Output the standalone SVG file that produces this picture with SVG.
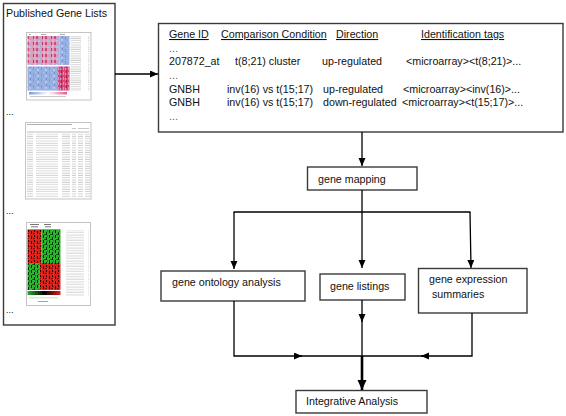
<svg xmlns="http://www.w3.org/2000/svg" width="566" height="416" viewBox="0 0 566 416">
<style>
  text { font-family: "Liberation Sans", Arial, sans-serif; font-size: 10.7px; fill: #111; }
  .box { fill: #fff; stroke: #3a3a3a; stroke-width: 1.4; }
  .hdr { text-decoration: underline; }
  .conn { fill: none; stroke: #000; stroke-width: 1.3; }
  .thick { fill: none; stroke: #000; stroke-width: 2.6; }
  .thumb { fill: #fff; stroke: #c4c4c4; stroke-width: 1; }
  .soft { filter: url(#blur); }
</style>
<defs>
  <filter id="blur" x="-5%" y="-5%" width="110%" height="110%">
    <feGaussianBlur stdDeviation="0.45"/>
  </filter>
  <marker id="ah" markerUnits="userSpaceOnUse" markerWidth="8" markerHeight="8" refX="8" refY="3.5" orient="auto">
    <path d="M0,0 L8,3.5 L0,7 z" fill="#000"/>
  </marker>
  <marker id="ahBig" markerUnits="userSpaceOnUse" markerWidth="10" markerHeight="10" refX="10" refY="4.5" orient="auto">
    <path d="M0,0 L10,4.5 L0,9 z" fill="#000"/>
  </marker>
  <pattern id="pinkTex" patternUnits="userSpaceOnUse" width="9" height="6">
    <rect width="9" height="6" fill="#dc9cbc"/>
    <rect x="0" y="0" width="2" height="3" fill="#c8507a"/>
    <rect x="4" y="2" width="1" height="4" fill="#a9b6e2"/>
    <rect x="6" y="0" width="1" height="3" fill="#b83a64"/>
    <rect x="2" y="4" width="2" height="2" fill="#b8c4ea"/>
    <rect x="7" y="3" width="2" height="3" fill="#e7b0c8"/>
  </pattern>
  <pattern id="blueTex" patternUnits="userSpaceOnUse" width="8" height="6">
    <rect width="8" height="6" fill="#97b0e2"/>
    <rect x="1" y="1" width="1" height="3" fill="#7c98d6"/>
    <rect x="5" y="3" width="2" height="2" fill="#c0c6e8"/>
    <rect x="3" y="0" width="1" height="2" fill="#d6a8c4"/>
    <rect x="6" y="0" width="1" height="2" fill="#6f8fd0"/>
  </pattern>
  <pattern id="redTex" patternUnits="userSpaceOnUse" width="5" height="5">
    <rect width="5" height="5" fill="#d64a77"/>
    <rect x="1" y="0" width="1" height="3" fill="#b02050"/>
    <rect x="3" y="2" width="1" height="3" fill="#e890b0"/>
    <rect x="0" y="3" width="1" height="2" fill="#a8b2e0"/>
  </pattern>
  <pattern id="gRed" patternUnits="userSpaceOnUse" width="6" height="5">
    <rect width="6" height="5" fill="#d8221e"/>
    <rect x="1" y="1" width="1" height="3" fill="#200"/>
    <rect x="4" y="0" width="1" height="2" fill="#300"/>
    <rect x="3" y="3" width="2" height="1" fill="#900"/>
    <rect x="5" y="3" width="1" height="2" fill="#2a9a2a"/>
  </pattern>
  <pattern id="gGreen" patternUnits="userSpaceOnUse" width="6" height="5">
    <rect width="6" height="5" fill="#2fb52f"/>
    <rect x="1" y="0" width="1" height="3" fill="#020"/>
    <rect x="4" y="2" width="1" height="3" fill="#031"/>
    <rect x="2" y="4" width="2" height="1" fill="#106010"/>
    <rect x="5" y="0" width="1" height="2" fill="#c83020"/>
  </pattern>
  <pattern id="txtCol" patternUnits="userSpaceOnUse" width="22" height="2.2">
    <rect x="0" y="0.5" width="15" height="0.8" fill="#c4c4c4"/>
  </pattern>
  <pattern id="txtCol2" patternUnits="userSpaceOnUse" width="22" height="2.6">
    <rect x="0" y="0.6" width="18" height="0.8" fill="#cccccc"/>
  </pattern>
  <pattern id="tblRows" patternUnits="userSpaceOnUse" x="25" y="133" width="66" height="2.3">
    <rect x="2" y="0.6" width="6" height="0.8" fill="#c4c4c4"/>
    <rect x="11" y="0.6" width="22" height="0.8" fill="#cfcfcf"/>
    <rect x="37" y="0.6" width="8" height="0.8" fill="#c4c4c4"/>
    <rect x="47" y="0.6" width="4" height="0.8" fill="#c4c4c4"/>
    <rect x="53" y="0.6" width="5" height="0.8" fill="#c4c4c4"/>
    <rect x="60" y="0.6" width="5" height="0.8" fill="#c4c4c4"/>
  </pattern>
  <linearGradient id="bwr" x1="0" x2="1" y1="0" y2="0">
    <stop offset="0" stop-color="#7f95d8"/>
    <stop offset="0.5" stop-color="#ffffff"/>
    <stop offset="1" stop-color="#e05a88"/>
  </linearGradient>
  <linearGradient id="gkr" x1="0" x2="1" y1="0" y2="0">
    <stop offset="0" stop-color="#2db02d"/>
    <stop offset="0.5" stop-color="#000"/>
    <stop offset="1" stop-color="#e02020"/>
  </linearGradient>
</defs>

<g id="published-gene-lists">
  <rect class="box" x="3.5" y="3.5" width="111.5" height="321.5"/>
  <text x="6" y="17">Published Gene Lists</text>
  <g id="thumb1">
    <rect class="thumb" x="26.5" y="32.5" width="64.5" height="67.5"/>
    <g class="soft">
      <rect x="29" y="34" width="2" height="0.8" fill="#999"/>
      <rect x="41" y="34" width="5" height="0.8" fill="#999"/>
      <rect x="60" y="34" width="5" height="0.8" fill="#999"/>
      <rect x="27.5" y="36" width="32" height="29" fill="url(#pinkTex)"/>
      <rect x="59.5" y="36" width="10" height="29" fill="url(#blueTex)"/>
      <rect x="27.5" y="66.5" width="30" height="24" fill="url(#blueTex)"/>
      <rect x="57.5" y="66.5" width="12" height="24" fill="url(#redTex)"/>
      <rect x="70.5" y="36" width="19" height="55" fill="url(#txtCol)"/>
      <rect x="29" y="92" width="38" height="2.5" fill="url(#bwr)"/>
      <rect x="30" y="96" width="36" height="0.8" fill="#bbb"/>
    </g>
  </g>
  <text x="6" y="115" style="font-size:9px">...</text>
  <g id="thumb2">
    <rect class="thumb" x="25.5" y="122.5" width="65.5" height="76.5"/>
    <g class="soft">
      <rect x="27" y="124" width="45" height="0.9" fill="#aaa"/>
      <rect x="72" y="128" width="4" height="0.8" fill="#bbb"/>
      <rect x="78" y="128" width="11" height="0.8" fill="#bbb"/>
      <rect x="26.5" y="131" width="63.5" height="0.5" fill="#ccc"/>
      <rect x="27" y="131.8" width="62" height="0.9" fill="#b0b0b0" opacity="0.6"/>
      <rect x="25.5" y="133.5" width="65" height="64" fill="url(#tblRows)"/>
    </g>
  </g>
  <text x="6" y="214" style="font-size:9px">...</text>
  <g id="thumb3">
    <rect class="thumb" x="26.5" y="222.5" width="64" height="83"/>
    <g class="soft">
      <rect x="30" y="224" width="9" height="1" fill="#777"/>
      <rect x="31" y="226.3" width="7" height="1" fill="#777"/>
      <rect x="44" y="224" width="7" height="1" fill="#777"/>
      <rect x="45" y="226.3" width="6" height="1" fill="#777"/>
      <rect x="27.5" y="229" width="33" height="0.6" fill="#555"/>
      <rect x="27.5" y="230" width="14" height="33" fill="url(#gRed)"/>
      <rect x="41.5" y="230" width="19" height="33" fill="url(#gGreen)"/>
      <rect x="27.5" y="263" width="12" height="27" fill="url(#gGreen)"/>
      <rect x="39.5" y="263" width="21" height="27" fill="url(#gRed)"/>
      <rect x="27.5" y="291" width="33" height="4" fill="url(#gkr)"/>
      <rect x="29" y="297.5" width="29" height="0.8" fill="#8c8" opacity="0.7"/>
      <rect x="38" y="301" width="10" height="0.9" fill="#999"/>
      <rect x="62" y="230" width="27" height="66" fill="url(#txtCol2)"/>
    </g>
  </g>
  <text x="6" y="313" style="font-size:9px">...</text>
</g>

<g id="gene-table">
  <rect class="box" x="158.5" y="23.5" width="404.5" height="108.5"/>
  <text class="hdr" x="169" y="38">Gene ID</text>
  <text class="hdr" x="221" y="38">Comparison Condition</text>
  <text class="hdr" x="336" y="38">Direction</text>
  <text class="hdr" x="421" y="38">Identification tags</text>
  <text x="169" y="52" style="fill:#666">...</text>
  <text x="169" y="65">207872_at</text>
  <text x="235" y="65">t(8;21) cluster</text>
  <text x="322" y="65">up-regulated</text>
  <text x="406" y="65">&lt;microarray&gt;&lt;t(8;21)&gt;...</text>
  <text x="169" y="79" style="fill:#666">...</text>
  <text x="169" y="93">GNBH</text>
  <text x="227" y="93">inv(16) vs t(15;17)</text>
  <text x="323" y="93">up-regulated</text>
  <text x="403" y="93">&lt;microarray&gt;&lt;inv(16)&gt;...</text>
  <text x="169" y="106">GNBH</text>
  <text x="227" y="106">inv(16) vs t(15;17)</text>
  <text x="323" y="106">down-regulated</text>
  <text x="402" y="106">&lt;microarray&gt;&lt;t(15;17)&gt;...</text>
  <text x="169" y="120" style="fill:#666">...</text>
</g>

<g id="gene-mapping">
  <rect class="box" x="307.5" y="167" width="109.5" height="23"/>
  <text x="318" y="183">gene mapping</text>
</g>

<g id="gene-ontology-analysis">
  <rect class="box" x="161" y="271" width="144" height="30"/>
  <text x="172" y="286">gene ontology analysis</text>
</g>

<g id="gene-listings">
  <rect class="box" x="320" y="274" width="85" height="26"/>
  <text x="330" y="290">gene listings</text>
</g>

<g id="gene-expression-summaries">
  <rect class="box" x="418.5" y="268.5" width="108.5" height="44.5"/>
  <text x="429" y="283">gene expression</text>
  <text x="432" y="298">summaries</text>
</g>

<g id="integrative-analysis">
  <rect class="box" x="296" y="390.5" width="131" height="22.5"/>
  <text x="306" y="405">Integrative Analysis</text>
</g>

<g id="connectors">
  <line class="conn" x1="115" y1="74" x2="158" y2="74" marker-end="url(#ah)"/>
  <line class="conn" x1="362" y1="132" x2="362" y2="166" marker-end="url(#ah)"/>
  <line class="conn" x1="362" y1="190" x2="362" y2="268" marker-end="url(#ah)"/>
  <line class="conn" x1="233.5" y1="212" x2="470.5" y2="212"/>
  <line class="conn" x1="234" y1="212" x2="234" y2="269" marker-end="url(#ah)"/>
  <line class="conn" x1="470" y1="212" x2="471" y2="268" marker-end="url(#ah)"/>
  <path class="conn" d="M234,301 V356 H302" marker-end="url(#ah)"/>
  <line class="conn" x1="300" y1="356" x2="362" y2="356"/>
  <path class="conn" d="M472,313 V356 H421" marker-end="url(#ah)"/>
  <line class="conn" x1="423" y1="356" x2="362" y2="356"/>
  <line class="conn" x1="362" y1="300" x2="362" y2="322" marker-end="url(#ah)"/>
  <line class="conn" x1="362" y1="320" x2="362" y2="357"/>
  <line class="thick" x1="362" y1="356" x2="362" y2="390" marker-end="url(#ahBig)"/>
</g>
</svg>
